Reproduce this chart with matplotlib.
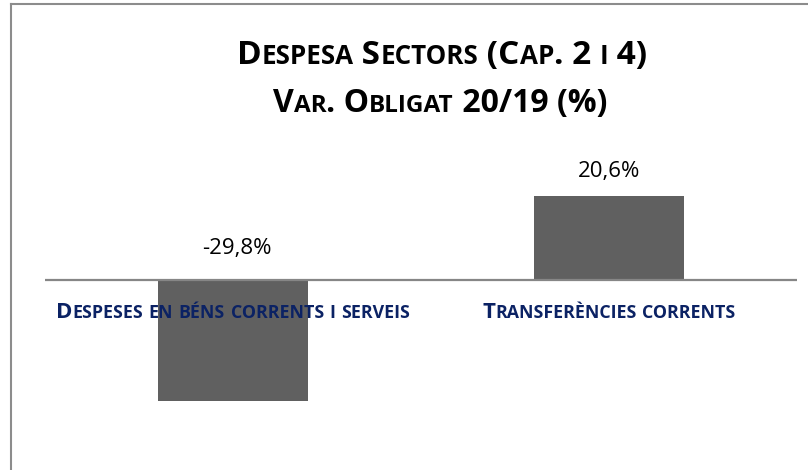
import matplotlib
matplotlib.use("Agg")
import matplotlib.pyplot as plt
from matplotlib.lines import Line2D

categories = ["Despeses en béns corrents i serveis", "Transferències corrents"]
values = [-29.8, 20.6]
value_labels = ["-29,8%", "20,6%"]
title_lines = ["Despesa Sectors (Cap. 2 i 4)", "Var. Obligat 20/19 (%)"]

W, H, DPI = 808, 470, 100
FONT = "Open Sans"
plt.rcParams['font.family'] = [FONT, 'DejaVu Sans']

fig = plt.figure(figsize=(W / DPI, H / DPI), dpi=DPI)
fig.patch.set_facecolor("white")

# axes: x 45..797 px, zero at y~279
ymin, ymax = -40, 30
ax_left, ax_right = 45, 797
zero_y = 279.5
ppu = 4.07
ax_top = zero_y - ymax * ppu
ax_bot = zero_y - ymin * ppu
ax = fig.add_axes([ax_left / W, 1 - ax_bot / H, (ax_right - ax_left) / W, (ax_bot - ax_top) / H])
ax.set_xlim(-0.5, len(categories) - 0.5)
ax.set_ylim(ymin, ymax)
ax.axis("off")
ax.bar(range(len(values)), values, width=0.4, color="#606060", zorder=2)
ax.axhline(0, color="#868686", lw=1.6, zorder=3)

for i, (v, lab) in enumerate(zip(values, value_labels)):
    off = 24 if v >= 0 else 31
    dx = 0 if v >= 0 else 4
    ax.annotate(lab, xy=(i, max(v, 0)), xytext=(dx * 72 / DPI, off * 72 / DPI), textcoords="offset points",
                ha="center", va="center", fontsize=16, color="#000000", zorder=4)

renderer = fig.canvas.get_renderer()


def small_caps(cx_px, base_px, s, size, ratio, color, weight="bold"):
    # split into runs of full-size (upper/non-letter) and small (lowercase) chars
    runs = []
    for ch in s:
        small = ch.islower()
        if runs and runs[-1][1] == small:
            runs[-1][0] += ch
        else:
            runs.append([ch, small])
    texts = []
    x = 0.0
    for txt, small in runs:
        fs = size * ratio if small else size
        t = fig.text(0, 0, txt.upper(), fontsize=fs, fontweight=weight, color=color,
                     va="baseline", ha="left")
        w = t.get_window_extent(renderer).width
        texts.append((t, x))
        x += w
    start = cx_px - x / 2
    for t, dx in texts:
        t.set_position(((start + dx) / W, 1 - base_px / H))


small_caps(442, 64, title_lines[0], 24, 0.78, "#000000")
small_caps(440, 112, title_lines[1], 23, 0.76, "#000000")

cat_centers_px = [233, 609]
for cx, cat in zip(cat_centers_px, categories):
    small_caps(cx, 318, cat, 16, 0.8, "#0B2264")

# frame
fig.add_artist(Line2D([11 / W, 11 / W], [0, 1 - 4 / H], transform=fig.transFigure, color="#8c8c8c", lw=1.5))
fig.add_artist(Line2D([11 / W, 1], [1 - 4 / H, 1 - 4 / H], transform=fig.transFigure, color="#8c8c8c", lw=1.5))

fig.savefig("out.png", dpi=DPI, facecolor="white")
